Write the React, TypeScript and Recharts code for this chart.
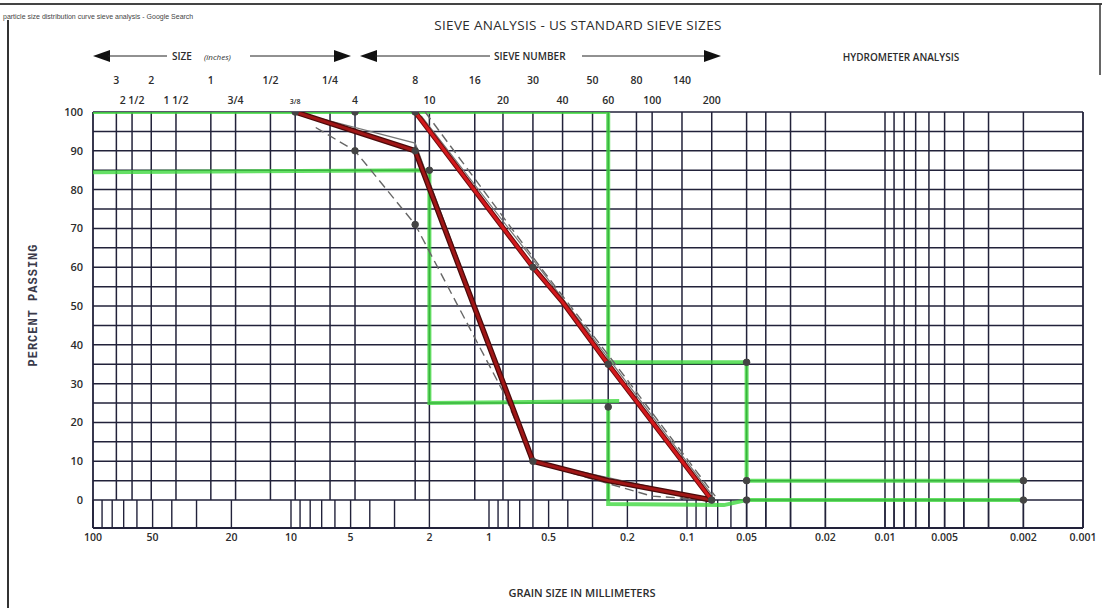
import React from "react";
import { ComposedChart, Line, XAxis, YAxis, ReferenceLine, Customized } from "recharts";

const W = 1102;
const H = 608;

// sieve openings (mm) with the labels printed above the grid
const sieveMM = [76.2, 63.5, 50.8, 38.1, 25.4, 19.05, 12.7, 9.525, 6.35, 4.75, 2.36, 2.0, 1.18, 0.85, 0.6, 0.425, 0.3, 0.25, 0.18, 0.15, 0.106, 0.075];
const sieveLabels = ["3", "2 1/2", "2", "1 1/2", "1", "3/4", "1/2", "3/8", "1/4", "4", "8", "10", "16", "20", "30", "40", "50", "60", "80", "100", "140", "200"];
const hydroMM = [0.05, 0.04, 0.03, 0.02, 0.01, 0.009, 0.008, 0.007, 0.006, 0.005, 0.004, 0.003, 0.002];
const grainTicks = [100, 50, 20, 10, 5, 2, 1, 0.5, 0.2, 0.1, 0.05, 0.02, 0.01, 0.005, 0.002, 0.001];
const percentTicks = [0, 10, 20, 30, 40, 50, 60, 70, 80, 90, 100];
const gridPercents = [0, 5, 10, 15, 20, 25, 30, 35, 40, 45, 50, 55, 60, 65, 70, 75, 80, 85, 90, 95, 100];
const decades = [10, 1, 0.1, 0.01, 0.001];
const steps = [1, 2, 3, 4, 5, 6, 7, 8, 9];
const minorMM = [100, ...decades.flatMap((dec) => steps.map((s) => s * dec))];

// curves: d = grain size mm, p = percent passing
const upperRed = [
  { d: 2.36, p: 100 },
  { d: 0.6, p: 60 },
  { d: 0.425, p: 51 },
  { d: 0.25, p: 35 },
  { d: 0.075, p: 0 },
];
const lowerRed = [
  { d: 9.525, p: 100 },
  { d: 4.75, p: 95 },
  { d: 2.36, p: 90 },
  { d: 0.6, p: 10 },
  { d: 0.25, p: 5 },
  { d: 0.075, p: 0 },
];
const grayLower = [
  { d: 9.525, p: 100 },
  { d: 2.36, p: 92 },
  { d: 0.6, p: 10 },
  { d: 0.075, p: 0 },
];
const grayUpper = [
  { d: 2.2, p: 99 },
  { d: 0.58, p: 61 },
  { d: 0.245, p: 36 },
  { d: 0.074, p: 1 },
];
const dashUpper = [
  { d: 2.1, p: 100 },
  { d: 0.55, p: 60 },
  { d: 0.23, p: 35 },
  { d: 0.072, p: 1 },
];
const dashLower = [
  { d: 7.5, p: 96 },
  { d: 4.75, p: 90 },
  { d: 2.36, p: 71 },
  { d: 0.85, p: 28 },
  { d: 0.6, p: 10 },
];
const dashTail = [
  { d: 0.45, p: 8 },
  { d: 0.15, p: 1 },
  { d: 0.075, p: 0 },
];
const greenUpper = [
  { d: 100, p: 100 },
  { d: 0.25, p: 100 },
  { d: 0.25, p: 35.5 },
  { d: 0.05, p: 35.5 },
  { d: 0.05, p: 5 },
  { d: 0.002, p: 5 },
];
const greenLower = [
  { d: 100, p: 84.5 },
  { d: 2.0, p: 85 },
  { d: 2.0, p: 25 },
  { d: 0.22, p: 25.5 },
];
const greenBottom = [
  { d: 0.25, p: 24 },
  { d: 0.25, p: -1 },
  { d: 0.065, p: -1.3 },
  { d: 0.05, p: 0 },
  { d: 0.002, p: 0 },
];
const dots = [
  { d: 9.525, p: 100 },
  { d: 4.75, p: 100 },
  { d: 2.36, p: 100 },
  { d: 2.36, p: 90 },
  { d: 4.75, p: 90 },
  { d: 2.0, p: 85 },
  { d: 2.36, p: 71 },
  { d: 0.6, p: 60 },
  { d: 0.25, p: 35 },
  { d: 0.25, p: 24 },
  { d: 0.6, p: 10 },
  { d: 0.075, p: 0 },
  { d: 0.05, p: 35.5 },
  { d: 0.05, p: 5 },
  { d: 0.05, p: 0 },
  { d: 0.002, p: 5 },
  { d: 0.002, p: 0 },
];

const GRID = "#22223a";
const TXT = "#2c2c2c";
const SANS = "'Open Sans', 'DejaVu Sans', sans-serif";

const SieveTick = (props: any) => {
  const { x, payload } = props;
  const i = sieveMM.indexOf(payload.value);
  if (i < 0) return null;
  const row2 = i % 2 === 1;
  return (
    <text x={x} y={row2 ? 104 : 84} textAnchor="middle" fontFamily={SANS} fontSize={i === 7 ? 7 : 10.5} fontWeight={600} fill={TXT}>
      {sieveLabels[i]}
    </text>
  );
};

const Header = () => (
  <g fontFamily={SANS} fill={TXT}>
    <line x1={0} y1={4} x2={W} y2={4} stroke="#444" strokeWidth={2} />
    <line x1={8} y1={20} x2={8} y2={H} stroke="#333" strokeWidth={2} />
    <line x1={1100} y1={4} x2={1100} y2={75} stroke="#333" strokeWidth={1.5} />
    <text x={3} y={19} fontSize={7} fontFamily="'Liberation Sans', Arial, sans-serif" fill="#444">
      particle size distribution curve sieve analysis - Google Search
    </text>
    <text x={578} y={30} fontSize={13.5} textAnchor="middle" letterSpacing={0.3}>
      SIEVE ANALYSIS - US STANDARD SIEVE SIZES
    </text>
    <polygon points="93,56 110,50 110,62" fill="#111" />
    <line x1={108} y1={56} x2={167} y2={56} stroke="#222" strokeWidth={1} />
    <text x={172} y={60} fontSize={10} fontWeight={600}>SIZE</text>
    <text x={204} y={60} fontSize={8} fontStyle="italic">(inches)</text>
    <line x1={250} y1={56} x2={336} y2={56} stroke="#222" strokeWidth={1} />
    <polygon points="351,56 334,50 334,62" fill="#111" />
    <polygon points="360,56 377,50 377,62" fill="#111" />
    <line x1={375} y1={56} x2={490} y2={56} stroke="#222" strokeWidth={1} />
    <text x={494} y={60} fontSize={10} fontWeight={600}>SIEVE NUMBER</text>
    <line x1={582} y1={56} x2={706} y2={56} stroke="#222" strokeWidth={1} />
    <polygon points="721,56 704,50 704,62" fill="#111" />
    <text x={901} y={61} fontSize={10} fontWeight={600} textAnchor="middle">HYDROMETER ANALYSIS</text>
    <text
      x={37}
      y={305}
      transform="rotate(-90 37 305)"
      textAnchor="middle"
      fontFamily="'Liberation Mono', 'DejaVu Sans Mono', monospace"
      fontSize={12}
      fontWeight={700}
      letterSpacing={1}
      fill="#3a3a4a"
    >
      PERCENT PASSING
    </text>
    <text x={582} y={597} fontSize={11} fontWeight={600} textAnchor="middle">
      GRAIN SIZE IN MILLIMETERS
    </text>
  </g>
);

const seg = (d: number, y1: number, y2: number) => [
  { x: d, y: y1 },
  { x: d, y: y2 },
];

export default function App() {
  return (
    <div style={{ position: "absolute", left: 0, top: 0, background: "#fff" }}>
      <ComposedChart width={W} height={H} margin={{ top: 82, right: 19, bottom: 50, left: 43 }}>
        <XAxis
          xAxisId="b"
          dataKey="d"
          type="number"
          scale="log"
          domain={[0.001, 100]}
          reversed
          allowDataOverflow
          ticks={grainTicks}
          tickFormatter={(v: number) => String(v)}
          tickLine={false}
          axisLine={false}
          tickSize={0}
          tickMargin={6}
          height={30}
          tick={{ fontFamily: SANS, fontSize: 10.5, fontWeight: 600, fill: TXT }}
        />
        <XAxis
          xAxisId="t"
          orientation="top"
          dataKey="d"
          type="number"
          scale="log"
          domain={[0.001, 100]}
          reversed
          allowDataOverflow
          ticks={sieveMM}
          tick={SieveTick}
          tickLine={false}
          axisLine={false}
          height={30}
          interval={0}
        />
        <YAxis
          dataKey="p"
          type="number"
          domain={[-7.2, 100]}
          allowDataOverflow
          ticks={percentTicks}
          tickLine={false}
          axisLine={false}
          width={50}
          tickMargin={4}
          tick={{ fontFamily: SANS, fontSize: 11, fontWeight: 600, fill: TXT }}
        />

        {gridPercents.map((v) => (
          <ReferenceLine key={"h" + v} xAxisId="b" y={v} stroke={GRID} strokeWidth={1.5} />
        ))}
        <ReferenceLine xAxisId="b" y={-7.2} stroke={GRID} strokeWidth={1.8} />
        {sieveMM.map((d) => (
          <ReferenceLine key={"s" + d} xAxisId="b" segment={seg(d, 0, 100)} stroke={GRID} strokeWidth={1.5} />
        ))}
        {hydroMM.map((d) => (
          <ReferenceLine key={"hy" + d} xAxisId="b" x={d} stroke={GRID} strokeWidth={1.5} />
        ))}
        {minorMM.map((d) => (
          <ReferenceLine key={"m" + d} xAxisId="b" segment={seg(d, -7.2, 0)} stroke={GRID} strokeWidth={1.4} />
        ))}
        <ReferenceLine xAxisId="b" x={100} stroke={GRID} strokeWidth={1.8} />
        <ReferenceLine xAxisId="b" x={0.001} stroke={GRID} strokeWidth={1.8} />

        {[greenUpper, greenLower, greenBottom].map((g, i) => (
          <Line
            key={"g" + i}
            xAxisId="b"
            data={g}
            dataKey="p"
            type="linear"
            stroke="#3fd83f"
            strokeOpacity={0.8}
            strokeWidth={4}
            dot={false}
            activeDot={false}
            isAnimationActive={false}
          />
        ))}
        {[dashUpper, dashLower, dashTail].map((g, i) => (
          <Line
            key={"dash" + i}
            xAxisId="b"
            data={g}
            dataKey="p"
            type="linear"
            stroke="#666"
            strokeWidth={1.4}
            strokeDasharray="9 5"
            dot={false}
            activeDot={false}
            isAnimationActive={false}
          />
        ))}
        {[grayUpper, grayLower].map((g, i) => (
          <Line
            key={"gray" + i}
            xAxisId="b"
            data={g}
            dataKey="p"
            type="linear"
            stroke="#777"
            strokeWidth={1.2}
            dot={false}
            activeDot={false}
            isAnimationActive={false}
          />
        ))}
        <Line xAxisId="b" data={lowerRed} dataKey="p" type="linear" stroke="#4a0a0a" strokeWidth={5.5} dot={false} activeDot={false} isAnimationActive={false} />
        <Line xAxisId="b" data={lowerRed} dataKey="p" type="linear" stroke="#a01616" strokeWidth={3} dot={false} activeDot={false} isAnimationActive={false} />
        <Line xAxisId="b" data={upperRed} dataKey="p" type="linear" stroke="#6a0c0c" strokeWidth={5} dot={false} activeDot={false} isAnimationActive={false} />
        <Line xAxisId="b" data={upperRed} dataKey="p" type="linear" stroke="#d3181c" strokeWidth={3} dot={false} activeDot={false} isAnimationActive={false} />
        <Line
          xAxisId="b"
          data={dots}
          dataKey="p"
          stroke="none"
          dot={{ r: 3.3, fill: "#444", stroke: "#444" }}
          activeDot={false}
          isAnimationActive={false}
        />
        <Customized component={Header} />
      </ComposedChart>
    </div>
  );
}
